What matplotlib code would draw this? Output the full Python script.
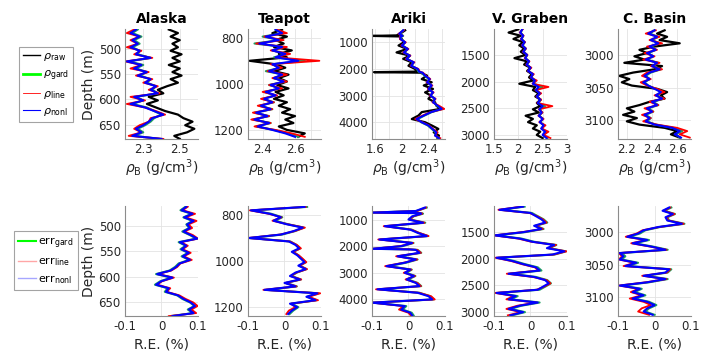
import numpy as np
import matplotlib
matplotlib.use('Agg')
import matplotlib.pyplot as plt
from matplotlib.lines import Line2D

# ---- data (depth in m, density in g/cm3, error in %) ----
alaska_depth = [462, 469, 476, 483, 490, 497, 504, 511, 518, 525, 532, 539, 546, 553, 560, 567,
                574, 581, 588, 595, 602, 609, 616, 623, 630, 637, 644, 651, 658, 665, 672, 678]
alaska_raw = [2.44, 2.49, 2.45, 2.50, 2.46, 2.49, 2.45, 2.51, 2.46, 2.50, 2.44, 2.50, 2.46, 2.51, 2.45, 2.49,
              2.43, 2.38, 2.41, 2.33, 2.38, 2.32, 2.37, 2.42, 2.49, 2.52, 2.57, 2.53, 2.58, 2.54, 2.47, 2.50]
alaska_gard = [2.27, 2.24, 2.29, 2.25, 2.28, 2.24, 2.28, 2.27, 2.34, 2.22, 2.30, 2.26, 2.32, 2.28, 2.34, 2.32,
               2.37, 2.35, 2.38, 2.26, 2.30, 2.24, 2.32, 2.36, 2.40, 2.36, 2.34, 2.31, 2.27, 2.30, 2.25, 2.39]
alaska_line = [2.25, 2.21, 2.28, 2.23, 2.27, 2.21, 2.29, 2.25, 2.35, 2.20, 2.29, 2.23, 2.33, 2.26, 2.35, 2.30,
               2.38, 2.33, 2.39, 2.23, 2.31, 2.21, 2.31, 2.37, 2.42, 2.34, 2.33, 2.28, 2.25, 2.29, 2.22, 2.41]
alaska_nonl = [2.26, 2.23, 2.28, 2.24, 2.27, 2.23, 2.28, 2.26, 2.34, 2.21, 2.29, 2.25, 2.32, 2.27, 2.34, 2.31,
               2.37, 2.34, 2.38, 2.25, 2.30, 2.23, 2.31, 2.36, 2.41, 2.35, 2.33, 2.30, 2.26, 2.29, 2.24, 2.40]
alaska_err_gard = [0.066, 0.052, 0.083, 0.060, 0.085, 0.068, 0.076, 0.057, 0.078, 0.095, 0.047, 0.066, 0.052, 0.073, 0.055, 0.076,
                   0.047, 0.037, 0.022, -0.015, 0.027, -0.003, -0.018, 0.017, 0.009, 0.043, 0.057, 0.078, 0.090, 0.072, 0.086, 0.025]
alaska_err_line = [0.072, 0.058, 0.092, 0.066, 0.096, 0.074, 0.084, 0.063, 0.086, 0.100, 0.053, 0.072, 0.058, 0.080, 0.061, 0.083,
                   0.052, 0.043, 0.027, -0.010, 0.034, 0.002, -0.012, 0.024, 0.014, 0.049, 0.066, 0.087, 0.099, 0.082, 0.095, 0.020]
alaska_err_nonl = [0.068, 0.055, 0.085, 0.062, 0.088, 0.070, 0.078, 0.060, 0.080, 0.098, 0.050, 0.068, 0.055, 0.075, 0.058, 0.078,
                   0.050, 0.040, 0.025, -0.012, 0.030, 0.000, -0.015, 0.020, 0.012, 0.045, 0.060, 0.080, 0.092, 0.075, 0.088, 0.030]

teapot_depth = [765, 780, 795, 810, 825, 840, 855, 870, 885, 900, 915, 930, 945, 960, 975, 990,
                1005, 1020, 1035, 1050, 1065, 1080, 1095, 1110, 1125, 1140, 1155, 1170, 1185, 1200, 1215, 1230]
teapot_raw = [2.52, 2.46, 2.55, 2.48, 2.53, 2.47, 2.58, 2.50, 2.55, 2.32, 2.48, 2.54, 2.47, 2.56, 2.50, 2.55,
              2.49, 2.56, 2.48, 2.53, 2.47, 2.55, 2.50, 2.57, 2.52, 2.60, 2.54, 2.59, 2.50, 2.55, 2.66, 2.62]
teapot_gard = [2.48, 2.53, 2.40, 2.51, 2.35, 2.53, 2.46, 2.55, 2.47, 2.66, 2.46, 2.51, 2.42, 2.53, 2.47, 2.54,
               2.44, 2.51, 2.41, 2.48, 2.40, 2.47, 2.38, 2.46, 2.35, 2.44, 2.34, 2.45, 2.36, 2.47, 2.56, 2.62]
teapot_line = [2.49, 2.55, 2.41, 2.53, 2.36, 2.55, 2.45, 2.57, 2.48, 2.75, 2.45, 2.52, 2.43, 2.55, 2.46, 2.55,
               2.44, 2.52, 2.40, 2.49, 2.39, 2.47, 2.37, 2.46, 2.34, 2.44, 2.33, 2.45, 2.35, 2.48, 2.58, 2.66]
teapot_nonl = [2.48, 2.52, 2.42, 2.50, 2.38, 2.52, 2.46, 2.54, 2.48, 2.62, 2.46, 2.50, 2.44, 2.52, 2.47, 2.53,
               2.45, 2.50, 2.42, 2.48, 2.41, 2.46, 2.39, 2.45, 2.36, 2.43, 2.35, 2.44, 2.37, 2.46, 2.54, 2.60]
teapot_err_gard = [0.062, -0.088, -0.036, -0.006, -0.026, 0.009, 0.053, 0.029, -0.006, -0.094, 0.016, 0.033, 0.043, 0.024, 0.038, 0.048,
                   0.058, 0.042, 0.060, 0.034, 0.019, 0.045, 0.004, 0.034, -0.050, 0.094, 0.063, 0.088, 0.019, 0.038, 0.024, 0.014]
teapot_err_line = [0.058, -0.095, -0.043, -0.008, -0.033, 0.008, 0.056, 0.028, -0.012, -0.100, 0.015, 0.034, 0.045, 0.023, 0.039, 0.050,
                   0.060, 0.041, 0.062, 0.033, 0.017, 0.046, 0.002, 0.033, -0.058, 0.098, 0.066, 0.092, 0.018, 0.030, 0.012, 0.005]
teapot_err_nonl = [0.055, -0.092, -0.040, -0.010, -0.030, 0.005, 0.050, 0.025, -0.010, -0.098, 0.012, 0.030, 0.040, 0.020, 0.035, 0.045,
                   0.055, 0.038, 0.058, 0.030, 0.015, 0.042, 0.000, 0.030, -0.055, 0.090, 0.060, 0.085, 0.015, 0.035, 0.020, 0.010]

ariki_depth = [550, 680, 740, 760, 780, 880, 1000, 1120, 1250, 1380, 1500, 1620, 1750, 1880, 2000, 2100, 2120, 2140, 2250,
               2380, 2500, 2620, 2750, 2880, 3000, 3120, 3250, 3380, 3500, 3620, 3750, 3880, 4000, 4120, 4250, 4380, 4500, 4600]
ariki_raw = [2.05, 1.97, 1.92, 1.56, 1.97, 2.00, 2.03, 1.95, 2.08, 1.92, 2.12, 2.02, 2.15, 2.10, 2.20, 2.22, 1.58, 2.28, 2.38,
             2.30, 2.45, 2.33, 2.47, 2.35, 2.44, 2.40, 2.50, 2.52, 2.58, 2.30, 2.25, 2.15, 2.35, 2.45, 2.55, 2.48, 2.56, 2.54]
ariki_gard = [2.02, 1.97, 2.01, 2.02, 1.99, 1.99, 2.05, 2.01, 2.09, 2.04, 2.12, 2.08, 2.17, 2.15, 2.23, 2.25, 2.27, 2.30, 2.34,
              2.41, 2.39, 2.44, 2.41, 2.46, 2.44, 2.49, 2.48, 2.53, 2.61, 2.45, 2.34, 2.24, 2.29, 2.39, 2.45, 2.51, 2.51, 2.55]
ariki_line = [2.03, 1.95, 2.00, 2.01, 1.97, 1.97, 2.06, 1.99, 2.10, 2.02, 2.13, 2.06, 2.19, 2.13, 2.25, 2.27, 2.28, 2.32, 2.36,
              2.43, 2.37, 2.46, 2.39, 2.48, 2.42, 2.51, 2.46, 2.56, 2.64, 2.43, 2.31, 2.20, 2.31, 2.41, 2.47, 2.54, 2.50, 2.58]
ariki_nonl = [2.02, 1.96, 2.00, 2.01, 1.98, 1.98, 2.05, 2.00, 2.09, 2.03, 2.12, 2.07, 2.18, 2.14, 2.24, 2.26, 2.28, 2.31, 2.35,
              2.42, 2.38, 2.45, 2.40, 2.47, 2.43, 2.50, 2.47, 2.54, 2.60, 2.44, 2.33, 2.22, 2.30, 2.40, 2.46, 2.52, 2.50, 2.56]
ariki_err_gard = [0.050, 0.022, -0.097, 0.033, 0.040, 0.014, 0.004, 0.046, -0.060, 0.009, 0.028, 0.054, -0.076, 0.014, -0.016, -0.097,
                  0.004, 0.025, 0.035, -0.026, 0.025, -0.006, -0.055, 0.009, -0.006, 0.019, -0.001, 0.025, 0.035, -0.080, 0.030,
                  0.060, 0.069, -0.097, -0.006, -0.016, 0.009, 0.014]
ariki_err_line = [0.048, 0.024, -0.100, 0.034, 0.038, 0.013, 0.003, 0.044, -0.068, 0.008, 0.029, 0.055, -0.083, 0.013, -0.024, -0.100,
                  0.003, 0.024, 0.034, -0.034, 0.024, -0.013, -0.064, 0.008, -0.013, 0.018, -0.008, 0.024, 0.034, -0.089, 0.029,
                  0.062, 0.072, -0.100, -0.014, -0.026, 0.000, 0.006]
ariki_err_nonl = [0.045, 0.020, -0.100, 0.030, 0.035, 0.010, 0.000, 0.040, -0.065, 0.005, 0.025, 0.050, -0.080, 0.010, -0.020, -0.100,
                  0.000, 0.020, 0.030, -0.030, 0.020, -0.010, -0.060, 0.005, -0.010, 0.015, -0.005, 0.020, 0.030, -0.085, 0.025,
                  0.055, 0.065, -0.100, -0.010, -0.020, 0.005, 0.010]

graben_depth = [1020, 1080, 1140, 1200, 1260, 1320, 1380, 1440, 1500, 1560, 1620, 1680, 1740, 1800, 1860, 1920, 1980, 2040,
                2100, 2160, 2220, 2280, 2340, 2400, 2460, 2520, 2580, 2640, 2700, 2760, 2820, 2880, 2940, 3000, 3060]
graben_raw = [2.00, 1.80, 2.05, 1.90, 2.10, 2.02, 2.12, 2.05, 2.15, 1.92, 2.18, 2.12, 2.25, 2.18, 2.28, 2.22, 2.30, 2.02,
              2.35, 2.30, 2.42, 2.35, 2.46, 2.38, 2.45, 2.30, 2.42, 2.15, 2.30, 2.20, 2.38, 2.30, 2.45, 2.38, 2.50]
graben_gard = [2.08, 2.05, 2.10, 2.07, 2.13, 2.09, 2.15, 2.11, 2.18, 2.15, 2.22, 2.18, 2.25, 2.21, 2.30, 2.27, 2.35, 2.31,
               2.50, 2.37, 2.45, 2.39, 2.46, 2.41, 2.55, 2.44, 2.49, 2.43, 2.51, 2.45, 2.53, 2.48, 2.58, 2.51, 2.60]
graben_line = [2.09, 2.03, 2.11, 2.05, 2.14, 2.07, 2.16, 2.09, 2.19, 2.13, 2.23, 2.16, 2.27, 2.19, 2.32, 2.25, 2.38, 2.29,
               2.62, 2.35, 2.47, 2.37, 2.47, 2.39, 2.70, 2.42, 2.50, 2.41, 2.52, 2.43, 2.56, 2.48, 2.62, 2.52, 2.66]
graben_nonl = [2.08, 2.04, 2.10, 2.06, 2.13, 2.08, 2.15, 2.10, 2.18, 2.14, 2.22, 2.17, 2.25, 2.20, 2.30, 2.26, 2.34, 2.30,
               2.42, 2.36, 2.44, 2.38, 2.45, 2.40, 2.50, 2.43, 2.48, 2.42, 2.50, 2.44, 2.52, 2.47, 2.55, 2.50, 2.58]
graben_err_gard = [-0.016, -0.080, 0.004, 0.020, 0.036, 0.046, 0.015, 0.036, -0.015, -0.094, -0.025, 0.010, 0.071, 0.051, 0.097,
                   0.066, -0.088, -0.045, -0.015, 0.020, 0.030, -0.055, 0.015, 0.046, 0.056, 0.041, 0.025, -0.088, -0.035,
                   -0.055, 0.025, -0.025, -0.055, -0.015, -0.050]
graben_err_line = [-0.023, -0.088, -0.003, 0.018, 0.034, 0.044, 0.013, 0.034, -0.024, -0.100, -0.034, 0.002, 0.070, 0.049, 0.099,
                   0.064, -0.096, -0.054, -0.024, 0.012, 0.022, -0.065, 0.006, 0.044, 0.055, 0.038, 0.017, -0.097, -0.045,
                   -0.066, 0.016, -0.036, -0.066, -0.026, -0.062]
graben_err_nonl = [-0.020, -0.085, 0.000, 0.015, 0.030, 0.040, 0.010, 0.030, -0.020, -0.098, -0.030, 0.005, 0.065, 0.045, 0.093,
                   0.060, -0.093, -0.050, -0.020, 0.015, 0.025, -0.060, 0.010, 0.040, 0.050, 0.035, 0.020, -0.093, -0.040,
                   -0.060, 0.020, -0.030, -0.060, -0.020, -0.055]

basin_depth = [2962, 2967, 2972, 2977, 2982, 2987, 2992, 2997, 3002, 3007, 3012, 3017, 3022, 3027, 3032, 3037, 3042,
               3047, 3052, 3057, 3062, 3067, 3072, 3077, 3082, 3087, 3092, 3097, 3102, 3107, 3112, 3117, 3122, 3127]
basin_raw = [2.50, 2.44, 2.52, 2.46, 2.62, 2.42, 2.30, 2.36, 2.26, 2.34, 2.18, 2.48, 2.42, 2.25, 2.14, 2.22, 2.16,
             2.24, 2.44, 2.52, 2.47, 2.50, 2.38, 2.30, 2.20, 2.26, 2.17, 2.28, 2.20, 2.30, 2.50, 2.60, 2.55, 2.62]
basin_gard = [2.42, 2.38, 2.45, 2.40, 2.46, 2.39, 2.43, 2.37, 2.41, 2.36, 2.45, 2.41, 2.47, 2.39, 2.35, 2.38, 2.34,
              2.37, 2.43, 2.48, 2.44, 2.49, 2.41, 2.45, 2.37, 2.41, 2.35, 2.39, 2.36, 2.43, 2.57, 2.64, 2.59, 2.62]
basin_line = [2.43, 2.35, 2.46, 2.38, 2.48, 2.36, 2.44, 2.34, 2.42, 2.33, 2.46, 2.39, 2.48, 2.36, 2.32, 2.39, 2.31,
              2.36, 2.44, 2.50, 2.42, 2.50, 2.38, 2.45, 2.34, 2.41, 2.32, 2.39, 2.33, 2.44, 2.60, 2.68, 2.62, 2.70]
basin_nonl = [2.42, 2.37, 2.44, 2.39, 2.45, 2.38, 2.43, 2.36, 2.41, 2.35, 2.44, 2.40, 2.46, 2.38, 2.34, 2.38, 2.33,
              2.37, 2.42, 2.47, 2.43, 2.48, 2.40, 2.44, 2.36, 2.40, 2.34, 2.38, 2.35, 2.42, 2.56, 2.62, 2.58, 2.63]
basin_err_gard = [0.046, 0.027, 0.056, 0.035, 0.040, 0.082, 0.015, -0.025, -0.040, -0.070, -0.015, -0.055, -0.005, 0.036,
                  -0.090, -0.080, -0.090, -0.045, -0.075, 0.046, 0.036, -0.025, 0.036, -0.015, -0.090, -0.035, -0.055,
                  -0.025, -0.055, -0.015, 0.005, -0.015, -0.025, 0.000]
basin_err_line = [0.043, 0.025, 0.055, 0.033, 0.038, 0.080, 0.013, -0.033, -0.049, -0.079, -0.024, -0.064, -0.013, 0.033,
                  -0.098, -0.089, -0.098, -0.054, -0.085, 0.043, 0.034, -0.034, 0.033, -0.024, -0.098, -0.044, -0.065,
                  -0.035, -0.068, -0.030, -0.010, -0.035, -0.045, -0.015]
basin_err_nonl = [0.040, 0.022, 0.050, 0.030, 0.035, 0.075, 0.010, -0.030, -0.045, -0.075, -0.020, -0.060, -0.010, 0.030,
                  -0.095, -0.085, -0.095, -0.050, -0.080, 0.040, 0.030, -0.030, 0.030, -0.020, -0.095, -0.040, -0.060,
                  -0.030, -0.060, -0.020, 0.000, -0.020, -0.030, -0.005]

sites = ['Alaska', 'Teapot', 'Ariki', 'V. Graben', 'C. Basin']
depths = [alaska_depth, teapot_depth, ariki_depth, graben_depth, basin_depth]
raw = [alaska_raw, teapot_raw, ariki_raw, graben_raw, basin_raw]
gard = [alaska_gard, teapot_gard, ariki_gard, graben_gard, basin_gard]
line = [alaska_line, teapot_line, ariki_line, graben_line, basin_line]
nonl = [alaska_nonl, teapot_nonl, ariki_nonl, graben_nonl, basin_nonl]
err_gard = [alaska_err_gard, teapot_err_gard, ariki_err_gard, graben_err_gard, basin_err_gard]
err_line = [alaska_err_line, teapot_err_line, ariki_err_line, graben_err_line, basin_err_line]
err_nonl = [alaska_err_nonl, teapot_err_nonl, ariki_err_nonl, graben_err_nonl, basin_err_nonl]

ylims = [(678, 461), (1239, 762), (4626, 500), (3075, 1013), (3129, 2960)]
yticks = [[500, 550, 600, 650], [800, 1000, 1200], [1000, 2000, 3000, 4000],
          [1500, 2000, 2500, 3000], [3000, 3050, 3100]]
rho_xlims = [(2.2, 2.6), (2.31, 2.76), (1.55, 2.65), (1.5, 3.0), (2.13, 2.71)]
rho_ticks = [[2.3, 2.5], [2.4, 2.6], [1.6, 2.0, 2.4], [1.5, 2.0, 2.5, 3.0], [2.2, 2.4, 2.6]]
rho_ticklabels = [['2.3', '2.5'], ['2.4', '2.6'], ['1.6', '2', '2.4'], ['1.5', '2', '2.5', '3'], ['2.2', '2.4', '2.6']]
rho_minor = [[2.4], [2.5, 2.7], [1.8, 2.2, 2.6], [], []]

GREEN = '#1fa060'
RED = '#ff0000'
BLUE = '#0000ff'
TXT = '#262626'

fig = plt.figure(figsize=(7.13, 3.58), dpi=100)
lefts = [0.1753, 0.3478, 0.5217, 0.6928, 0.8668]
W, H = 0.1024, 0.307


def style(ax):
    for s in ['top', 'right']:
        ax.spines[s].set_visible(False)
    for s in ['left', 'bottom']:
        ax.spines[s].set_color('#8c8c8c')
        ax.spines[s].set_linewidth(0.8)
    ax.tick_params(which='both', length=0, labelsize=8.5, colors=TXT, pad=3)
    ax.grid(True, which='both', color='#e3e3e3', lw=0.6)
    ax.set_axisbelow(True)


for i in range(5):
    d = depths[i]
    # top row: densities
    ax = fig.add_axes([lefts[i], 0.612, W, H])
    style(ax)
    ax.plot(raw[i], d, color='k', lw=1.6)
    ax.plot(gard[i], d, color=GREEN, lw=1.5)
    ax.plot(line[i], d, color=RED, lw=1.3)
    ax.plot(nonl[i], d, color=BLUE, lw=1.5)
    ax.set_ylim(*ylims[i])
    ax.set_yticks(yticks[i])
    ax.set_xlim(*rho_xlims[i])
    ax.set_xticks(rho_ticks[i])
    ax.set_xticklabels(rho_ticklabels[i])
    ax.set_xticks(rho_minor[i], minor=True)
    ax.set_title(sites[i], fontsize=10, fontweight='bold', pad=4)
    ax.set_xlabel(r'$\rho_{\rm B}$ (g/cm$^3$)', fontsize=10, color=TXT, labelpad=1)
    if i == 0:
        ax.set_ylabel('Depth (m)', fontsize=10, color=TXT, labelpad=2)

    # bottom row: relative errors
    bx = fig.add_axes([lefts[i], 0.117, W, H])
    style(bx)
    bx.plot(err_gard[i], d, color=GREEN, lw=1.5)
    bx.plot(err_line[i], d, color=RED, lw=1.3)
    bx.plot(err_nonl[i], d, color=BLUE, lw=1.5)
    bx.set_ylim(*ylims[i])
    bx.set_yticks(yticks[i])
    bx.set_xlim(-0.1, 0.1)
    bx.set_xticks([-0.1, 0, 0.1])
    bx.set_xticklabels(['-0.1', '0', '0.1'])
    bx.set_xlabel('R.E. (%)', fontsize=10, color=TXT, labelpad=3)
    if i == 0:
        bx.set_ylabel('Depth (m)', fontsize=10, color=TXT, labelpad=2)

top_handles = [Line2D([], [], color='k', lw=1.0),
               Line2D([], [], color='#00ff00', lw=2.0),
               Line2D([], [], color=RED, lw=0.6),
               Line2D([], [], color=BLUE, lw=0.8)]
top_labels = [r'$\rho_{\rm raw}$', r'$\rho_{\rm gard}$', r'$\rho_{\rm line}$', r'$\rho_{\rm nonl}$']
leg1 = fig.legend(top_handles, top_labels, loc='center', bbox_to_anchor=(0.064, 0.763),
                  fontsize=8, frameon=True, fancybox=False, edgecolor='#8c8c8c',
                  handlelength=1.6, handletextpad=0.2, borderpad=0.35, labelspacing=0.5,
                  borderaxespad=0)
leg1.get_frame().set_linewidth(0.8)

bot_handles = [Line2D([], [], color='#00ff00', lw=1.5),
               Line2D([], [], color=RED, lw=1.0, alpha=0.35),
               Line2D([], [], color=BLUE, lw=1.0, alpha=0.35)]
bot_labels = [r'err$_{\rm gard}$', r'err$_{\rm line}$', r'err$_{\rm nonl}$']
leg2 = fig.legend(bot_handles, bot_labels, loc='center', bbox_to_anchor=(0.0645, 0.272),
                  fontsize=8, frameon=True, fancybox=False, edgecolor='#8c8c8c',
                  handlelength=1.6, handletextpad=0.2, borderpad=0.35, labelspacing=0.45,
                  borderaxespad=0)
leg2.get_frame().set_linewidth(0.8)

fig.savefig('out.png', dpi=100)
